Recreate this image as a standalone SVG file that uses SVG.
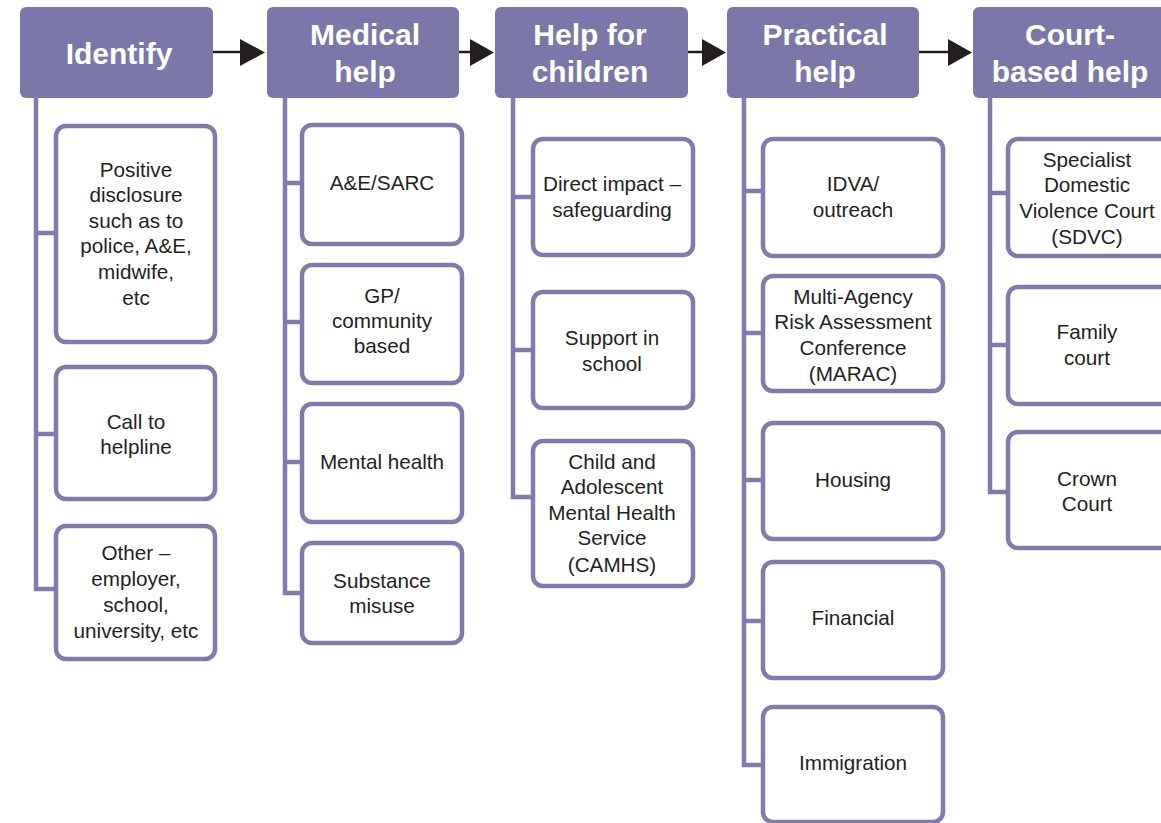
<svg xmlns="http://www.w3.org/2000/svg" width="1161" height="823" viewBox="0 0 1161 823">
<defs>
<style>
.hd{fill:#7b77a8}
.bx{fill:#fff;stroke:#7f7bab;stroke-width:4.5}
.ln{fill:none;stroke:#7f7bab;stroke-width:4.5;stroke-linejoin:miter}
.ar{stroke:#231f20;stroke-width:2.5;fill:none}
.ht{font-family:"Liberation Sans",Arial,sans-serif;font-weight:bold;font-size:30px;fill:#fff;text-anchor:middle}
.ct{font-family:"Liberation Sans",Arial,sans-serif;font-size:20.7px;fill:#231f20;text-anchor:middle}
</style>
</defs>
<rect width="1161" height="823" fill="#fff"/>
<g id="connectors">
<path class="ln" d="M36,98 V589 H56 M36,233 H56 M36,434 H56"/>
<path class="ln" d="M285,98 V593 H302 M285,183 H302 M285,322 H302 M285,462 H302"/>
<path class="ln" d="M513,98 V497 H533 M513,197 H533 M513,350 H533"/>
<path class="ln" d="M744,98 V765 H763 M744,191 H763 M744,333 H763 M744,480 H763 M744,621 H763"/>
<path class="ln" d="M990,98 V492 H1008 M990,193 H1008 M990,345 H1008"/>
<g>
<line class="ar" x1="213" y1="52" x2="243" y2="52"/><path d="M240,39 L265,52.5 L240,66 Z" fill="#231f20"/>
<line class="ar" x1="459" y1="52" x2="473" y2="52"/><path d="M470,39 L494,52.5 L470,66 Z" fill="#231f20"/>
<line class="ar" x1="688" y1="52" x2="705" y2="52"/><path d="M702,39 L726,52.5 L702,66 Z" fill="#231f20"/>
<line class="ar" x1="919" y1="52" x2="951" y2="52"/><path d="M948,39 L972,52.5 L948,66 Z" fill="#231f20"/>
</g>
</g>
<g id="h-identify"><rect class="hd" x="20" y="7" width="193" height="91" rx="6"/><text class="ht" x="119" y="64">Identify</text></g>
<g id="h-medical"><rect class="hd" x="267" y="7" width="192" height="91" rx="6"/><text class="ht" x="365" y="45">Medical</text><text class="ht" x="365" y="82">help</text></g>
<g id="h-children"><rect class="hd" x="495" y="7" width="193" height="91" rx="6"/><text class="ht" x="590" y="45">Help for</text><text class="ht" x="590" y="82">children</text></g>
<g id="h-practical"><rect class="hd" x="727" y="7" width="192" height="91" rx="6"/><text class="ht" x="825" y="45">Practical</text><text class="ht" x="825" y="82">help</text></g>
<g id="h-court"><rect class="hd" x="973" y="7" width="200" height="91" rx="6"/><text class="ht" x="1070" y="45">Court-</text><text class="ht" x="1070" y="82">based help</text></g>

<g id="n-positive"><rect class="bx" x="56" y="126" width="159" height="216" rx="10"/><text class="ct"><tspan x="136" y="177">Positive</tspan><tspan x="136" y="202">disclosure</tspan><tspan x="136" y="228">such as to</tspan><tspan x="136" y="253">police, A&amp;E,</tspan><tspan x="136" y="279">midwife,</tspan><tspan x="136" y="305">etc</tspan></text></g>
<g id="n-helpline"><rect class="bx" x="56" y="367" width="159" height="132" rx="10"/><text class="ct"><tspan x="136" y="429">Call to</tspan><tspan x="136" y="454">helpline</tspan></text></g>
<g id="n-other"><rect class="bx" x="56" y="526" width="159" height="133" rx="10"/><text class="ct"><tspan x="136" y="560">Other –</tspan><tspan x="136" y="586">employer,</tspan><tspan x="136" y="612">school,</tspan><tspan x="136" y="638">university, etc</tspan></text></g>

<g id="n-ae"><rect class="bx" x="302" y="125" width="160" height="119" rx="10"/><text class="ct" x="382" y="190">A&amp;E/SARC</text></g>
<g id="n-gp"><rect class="bx" x="302" y="265" width="160" height="118" rx="10"/><text class="ct"><tspan x="382" y="303">GP/</tspan><tspan x="382" y="328">community</tspan><tspan x="382" y="353">based</tspan></text></g>
<g id="n-mental"><rect class="bx" x="302" y="404" width="160" height="118" rx="10"/><text class="ct" x="382" y="469">Mental health</text></g>
<g id="n-substance"><rect class="bx" x="302" y="543" width="160" height="100" rx="10"/><text class="ct"><tspan x="382" y="588">Substance</tspan><tspan x="382" y="613">misuse</tspan></text></g>

<g id="n-direct"><rect class="bx" x="533" y="139" width="160" height="116" rx="10"/><text class="ct"><tspan x="612" y="191">Direct impact –</tspan><tspan x="612" y="217">safeguarding</tspan></text></g>
<g id="n-school"><rect class="bx" x="533" y="292" width="160" height="116" rx="10"/><text class="ct"><tspan x="612" y="345">Support in</tspan><tspan x="612" y="371">school</tspan></text></g>
<g id="n-camhs"><rect class="bx" x="533" y="441" width="160" height="145" rx="10"/><text class="ct"><tspan x="612" y="469">Child and</tspan><tspan x="612" y="494">Adolescent</tspan><tspan x="612" y="520">Mental Health</tspan><tspan x="612" y="545">Service</tspan><tspan x="612" y="572">(CAMHS)</tspan></text></g>

<g id="n-idva"><rect class="bx" x="763" y="139" width="180" height="117" rx="10"/><text class="ct"><tspan x="853" y="191">IDVA/</tspan><tspan x="853" y="217">outreach</tspan></text></g>
<g id="n-marac"><rect class="bx" x="763" y="276" width="180" height="115" rx="10"/><text class="ct"><tspan x="853" y="304">Multi-Agency</tspan><tspan x="853" y="329">Risk Assessment</tspan><tspan x="853" y="355">Conference</tspan><tspan x="853" y="381">(MARAC)</tspan></text></g>
<g id="n-housing"><rect class="bx" x="763" y="423" width="180" height="116" rx="10"/><text class="ct" x="853" y="487">Housing</text></g>
<g id="n-financial"><rect class="bx" x="763" y="562" width="180" height="116" rx="10"/><text class="ct" x="853" y="625">Financial</text></g>
<g id="n-immigration"><rect class="bx" x="763" y="707" width="180" height="115" rx="10"/><text class="ct" x="853" y="770">Immigration</text></g>

<g id="n-sdvc"><rect class="bx" x="1008" y="139" width="162" height="117" rx="10"/><text class="ct"><tspan x="1087" y="167">Specialist</tspan><tspan x="1087" y="192">Domestic</tspan><tspan x="1087" y="218">Violence Court</tspan><tspan x="1087" y="244">(SDVC)</tspan></text></g>
<g id="n-family"><rect class="bx" x="1008" y="287" width="162" height="117" rx="10"/><text class="ct"><tspan x="1087" y="339">Family</tspan><tspan x="1087" y="365">court</tspan></text></g>
<g id="n-crown"><rect class="bx" x="1008" y="432" width="162" height="116" rx="10"/><text class="ct"><tspan x="1087" y="486">Crown</tspan><tspan x="1087" y="511">Court</tspan></text></g>
</svg>
